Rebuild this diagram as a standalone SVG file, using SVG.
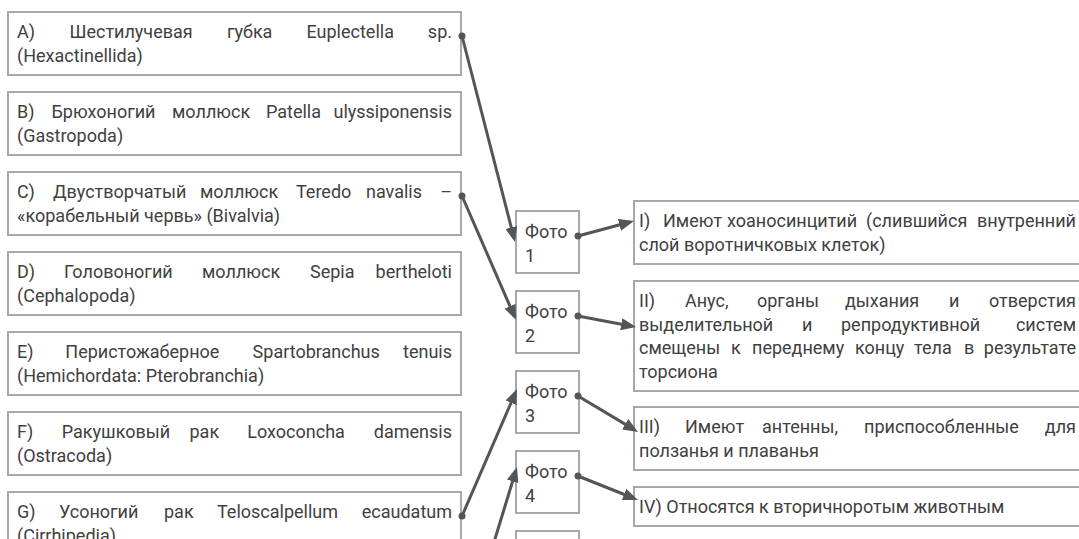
<svg xmlns="http://www.w3.org/2000/svg" width="1079" height="539" viewBox="0 0 1079 539">
<style>
.box{fill:#fff;stroke:#a8a8a8;stroke-width:2}
.t{font-family:Roboto,"Noto Sans",sans-serif;font-size:18px;fill:#404040}
.e{text-anchor:end}
.c{fill:none;stroke:#555;stroke-width:3}
.d{fill:#555}
</style>
<defs>
<marker id="arr" markerUnits="userSpaceOnUse" markerWidth="16" markerHeight="12" refX="11" refY="6" orient="auto">
<path d="M0,0 L15,6 L0,12 z" fill="#555"/>
</marker>
</defs>
<rect width="1079" height="539" fill="#fff"/>

<g id="node-A">
<rect class="box" x="8" y="12" width="453" height="63"/>
<text class="t" y="38"><tspan x="17">A)</tspan><tspan x="69.5">Шестилучевая</tspan><tspan x="227">губка</tspan><tspan x="306.5">Euplectella</tspan><tspan x="452" class="e">sp.</tspan></text>
<text class="t" x="17" y="61.5">(Hexactinellida)</text>
</g>
<g id="node-B">
<rect class="box" x="8" y="92" width="453" height="63"/>
<text class="t" y="118"><tspan x="17">B)</tspan><tspan x="51.5">Брюхоногий</tspan><tspan x="172">моллюск</tspan><tspan x="266">Patella</tspan><tspan x="452" class="e">ulyssiponensis</tspan></text>
<text class="t" x="17" y="141.5">(Gastropoda)</text>
</g>
<g id="node-C">
<rect class="box" x="8" y="172" width="453" height="63"/>
<text class="t" y="198"><tspan x="17">C)</tspan><tspan x="53">Двустворчатый</tspan><tspan x="200">моллюск</tspan><tspan x="296">Teredo</tspan><tspan x="366">navalis</tspan><tspan x="452" class="e">–</tspan></text>
<text class="t" x="17" y="221.5">«корабельный червь» (Bivalvia)</text>
</g>
<g id="node-D">
<rect class="box" x="8" y="252" width="453" height="63"/>
<text class="t" y="278"><tspan x="17">D)</tspan><tspan x="64">Головоногий</tspan><tspan x="202">моллюск</tspan><tspan x="310">Sepia</tspan><tspan x="452" class="e">bertheloti</tspan></text>
<text class="t" x="17" y="301.5">(Cephalopoda)</text>
</g>
<g id="node-E">
<rect class="box" x="8" y="332" width="453" height="63"/>
<text class="t" y="358"><tspan x="17">E)</tspan><tspan x="65.3">Перистожаберное</tspan><tspan x="252.6">Spartobranchus</tspan><tspan x="452" class="e">tenuis</tspan></text>
<text class="t" x="17" y="381.5">(Hemichordata: Pterobranchia)</text>
</g>
<g id="node-F">
<rect class="box" x="8" y="412" width="453" height="63"/>
<text class="t" y="438"><tspan x="17">F)</tspan><tspan x="61.8">Ракушковый</tspan><tspan x="189.5">рак</tspan><tspan x="247.3">Loxoconcha</tspan><tspan x="452" class="e">damensis</tspan></text>
<text class="t" x="17" y="461.5">(Ostracoda)</text>
</g>
<g id="node-G">
<rect class="box" x="8" y="492" width="453" height="63"/>
<text class="t" y="518"><tspan x="17">G)</tspan><tspan x="59">Усоногий</tspan><tspan x="164">рак</tspan><tspan x="217">Teloscalpellum</tspan><tspan x="452" class="e">ecaudatum</tspan></text>
<text class="t" x="17" y="541.5">(Cirrhipedia)</text>
</g>

<g id="photo-1">
<rect class="box" x="516" y="211" width="63" height="62"/>
<text class="t" x="525" y="238">Фото</text>
<text class="t" x="525" y="261.5">1</text>
</g>
<g id="photo-2">
<rect class="box" x="516" y="291" width="63" height="62"/>
<text class="t" x="525" y="318">Фото</text>
<text class="t" x="525" y="341.5">2</text>
</g>
<g id="photo-3">
<rect class="box" x="516" y="371" width="63" height="62"/>
<text class="t" x="525" y="398">Фото</text>
<text class="t" x="525" y="421.5">3</text>
</g>
<g id="photo-4">
<rect class="box" x="516" y="451" width="63" height="62"/>
<text class="t" x="525" y="478">Фото</text>
<text class="t" x="525" y="501.5">4</text>
</g>
<g id="photo-5">
<rect class="box" x="516" y="531" width="63" height="62"/>
</g>

<g id="trait-I">
<rect class="box" x="634" y="201" width="453" height="63"/>
<text class="t" y="227"><tspan x="639">I)</tspan><tspan x="663">Имеют</tspan><tspan x="727">хоаносинцитий</tspan><tspan x="866">(слившийся</tspan><tspan x="1076" class="e">внутренний</tspan></text>
<text class="t" x="639" y="250.5">слой воротничковых клеток)</text>
</g>
<g id="trait-II">
<rect class="box" x="634" y="281" width="453" height="110"/>
<text class="t" y="307"><tspan x="639">II)</tspan><tspan x="685">Анус,</tspan><tspan x="757">органы</tspan><tspan x="845">дыхания</tspan><tspan x="949">и</tspan><tspan x="1076" class="e">отверстия</tspan></text>
<text class="t" y="330.5"><tspan x="639">выделительной</tspan><tspan x="802">и</tspan><tspan x="841">репродуктивной</tspan><tspan x="1076" class="e">систем</tspan></text>
<text class="t" y="354"><tspan x="639">смещены</tspan><tspan x="731">к</tspan><tspan x="752">переднему</tspan><tspan x="855">концу</tspan><tspan x="914">тела</tspan><tspan x="964">в</tspan><tspan x="1076" class="e">результате</tspan></text>
<text class="t" x="639" y="377.5">торсиона</text>
</g>
<g id="trait-III">
<rect class="box" x="634" y="407" width="453" height="63"/>
<text class="t" y="433"><tspan x="639">III)</tspan><tspan x="685">Имеют</tspan><tspan x="762">антенны,</tspan><tspan x="864">приспособленные</tspan><tspan x="1076" class="e">для</tspan></text>
<text class="t" x="639" y="456.5">ползанья и плаванья</text>
</g>
<g id="trait-IV">
<rect class="box" x="634" y="487" width="453" height="39"/>
<text class="t" x="639" y="513">IV) Относятся к вторичноротым животным</text>
</g>

<g id="connectors">
<line class="c" x1="462" y1="36" x2="514" y2="238.1" marker-end="url(#arr)"/>
<line class="c" x1="462" y1="196" x2="514.4" y2="316.3" marker-end="url(#arr)"/>
<line class="c" x1="578" y1="236" x2="630.1" y2="222" marker-end="url(#arr)"/>
<line class="c" x1="578" y1="316" x2="632.1" y2="326.3" marker-end="url(#arr)"/>
<line class="c" x1="578" y1="396" x2="634.6" y2="429.9" marker-end="url(#arr)"/>
<line class="c" x1="578" y1="476" x2="634.3" y2="498.5" marker-end="url(#arr)"/>
<line class="c" x1="462" y1="516" x2="515.4" y2="392.7" marker-end="url(#arr)"/>
<line class="c" x1="485.5" y1="570" x2="515.8" y2="470.8" marker-end="url(#arr)"/>
<circle class="d" cx="462" cy="36" r="3.5"/>
<circle class="d" cx="462" cy="196" r="3.5"/>
<circle class="d" cx="462" cy="516" r="3.5"/>
<circle class="d" cx="578" cy="236" r="3.5"/>
<circle class="d" cx="578" cy="316" r="3.5"/>
<circle class="d" cx="578" cy="396" r="3.5"/>
<circle class="d" cx="578" cy="476" r="3.5"/>
</g>
</svg>
